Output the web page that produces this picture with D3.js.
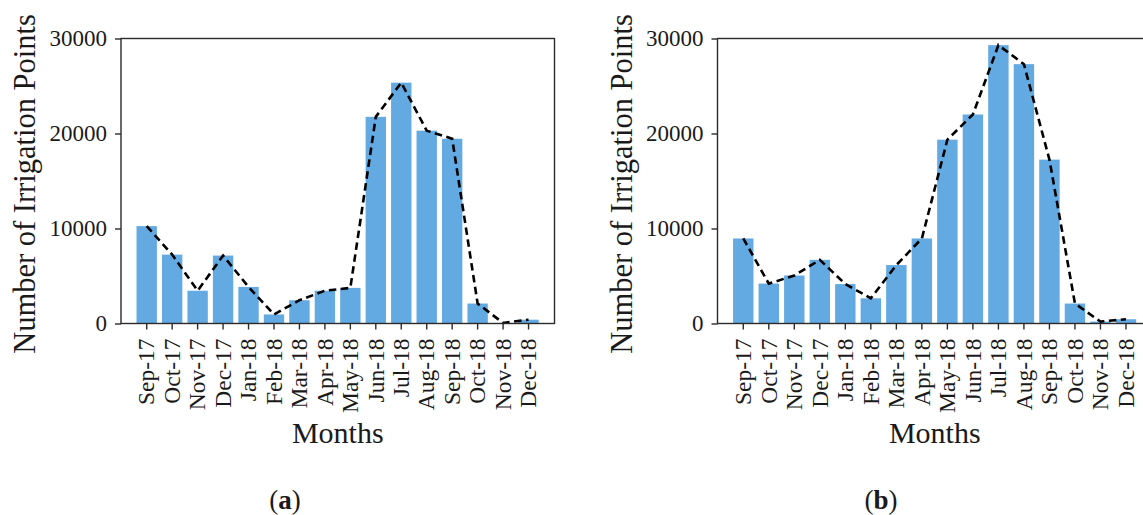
<!DOCTYPE html>
<html>
<head>
<meta charset="utf-8">
<script src="https://d3js.org/d3.v7.min.js"></script>
<style>
  html, body { margin: 0; padding: 0; background: #fff; }
  svg { display: block; }
  text { font-family: "Liberation Serif", "DejaVu Serif", serif; fill: #1a1a1a; }
</style>
</head>
<body>
<svg id="chart" width="1143" height="515"></svg>
<script>
// Monthly counts of detected irrigation points
const months = ["Sep-17", "Oct-17", "Nov-17", "Dec-17", "Jan-18", "Feb-18", "Mar-18", "Apr-18",
                "May-18", "Jun-18", "Jul-18", "Aug-18", "Sep-18", "Oct-18", "Nov-18", "Dec-18"];
const pointsA = [10250, 7250, 3450, 7150, 3850, 950, 2450, 3450, 3750, 21750, 25350, 20300, 19450, 2100, 60, 400];
const pointsB = [8950, 4200, 5050, 6700, 4150, 2650, 6150, 8950, 19350, 22000, 29300, 27300, 17250, 2100, 200, 450];
const yTicks = [0, 10000, 20000, 30000];
const captions = ["a", "b"];

const svg = d3.select("#chart");
const barColor = "#63a9e2";
const axisColor = "#2b2b2b";
const serif = '"Liberation Serif", "DejaVu Serif", serif';

// Each panel: plot frame left/right in pixels, shared vertical extent
const panels = [
  { data: pointsA, left: 121, right: 554.5, capX: 285, cap: captions[0] },
  { data: pointsB, left: 717.5, right: 1152, capX: 881, cap: captions[1] }
];
const plotTop = 38.5, plotBottom = 323.5;

panels.forEach(p => {
  const g = svg.append("g");
  const x = d3.scaleLinear().domain([-1.01, months.length - 1 + 1.02]).range([p.left, p.right]);
  const y = d3.scaleLinear().domain([0, 30000]).range([plotBottom, plotTop]);
  const step = x(1) - x(0);
  const bw = step * 0.8;

  // bars
  g.selectAll("rect.bar").data(p.data).join("rect")
    .attr("class", "bar")
    .attr("x", (d, i) => x(i) - bw / 2)
    .attr("y", d => y(d))
    .attr("width", bw)
    .attr("height", d => y(0) - y(d))
    .attr("fill", barColor);

  // dashed trend line through the same values
  const line = d3.line().x((d, i) => x(i)).y(d => y(d));
  g.append("path")
    .datum(p.data)
    .attr("d", line)
    .attr("fill", "none")
    .attr("stroke", "#000")
    .attr("stroke-width", 2.6)
    .attr("stroke-dasharray", "7.5,4.5");

  // frame
  g.append("rect")
    .attr("x", p.left).attr("y", plotTop)
    .attr("width", p.right - p.left).attr("height", plotBottom - plotTop)
    .attr("fill", "none").attr("stroke", axisColor).attr("stroke-width", 1.4);

  // y axis
  const yAxis = d3.axisLeft(y).tickValues(yTicks).tickSize(6).tickPadding(8).tickFormat(d3.format("d"));
  const ya = g.append("g").attr("transform", `translate(${p.left},0)`).call(yAxis);
  ya.select(".domain").remove();
  ya.selectAll(".tick line").attr("stroke", axisColor).attr("stroke-width", 1.4);
  ya.selectAll(".tick text")
    .style("font-family", serif)
    .style("font-size", "23px")
    .attr("fill", "#1a1a1a");

  // x axis: ticks and rotated month labels
  const xa = g.append("g");
  xa.selectAll("line").data(months).join("line")
    .attr("x1", (d, i) => x(i)).attr("x2", (d, i) => x(i))
    .attr("y1", plotBottom).attr("y2", plotBottom + 6)
    .attr("stroke", axisColor).attr("stroke-width", 1.4);
  xa.selectAll("text").data(months).join("text")
    .attr("transform", (d, i) => `translate(${x(i)},${plotBottom + 15}) rotate(-90)`)
    .attr("text-anchor", "end")
    .attr("dy", "0.33em")
    .style("font-size", "23.5px")
    .text(d => d);

  // axis titles
  g.append("text")
    .attr("x", (p.left + p.right) / 2).attr("y", 443)
    .attr("text-anchor", "middle")
    .style("font-size", "30px")
    .text("Months");
  g.append("text")
    .attr("transform", `translate(${p.left - 86},${(plotTop + plotBottom) / 2 + 3}) rotate(-90)`)
    .attr("text-anchor", "middle")
    .style("font-size", "30.5px")
    .text("Number of Irrigation Points");

  // panel caption
  const cap = g.append("text")
    .attr("x", p.capX).attr("y", 509)
    .attr("text-anchor", "middle")
    .style("font-size", "27px");
  cap.append("tspan").text("(");
  cap.append("tspan").attr("font-weight", "bold").text(p.cap);
  cap.append("tspan").text(")");
});
</script>
</body>
</html>
